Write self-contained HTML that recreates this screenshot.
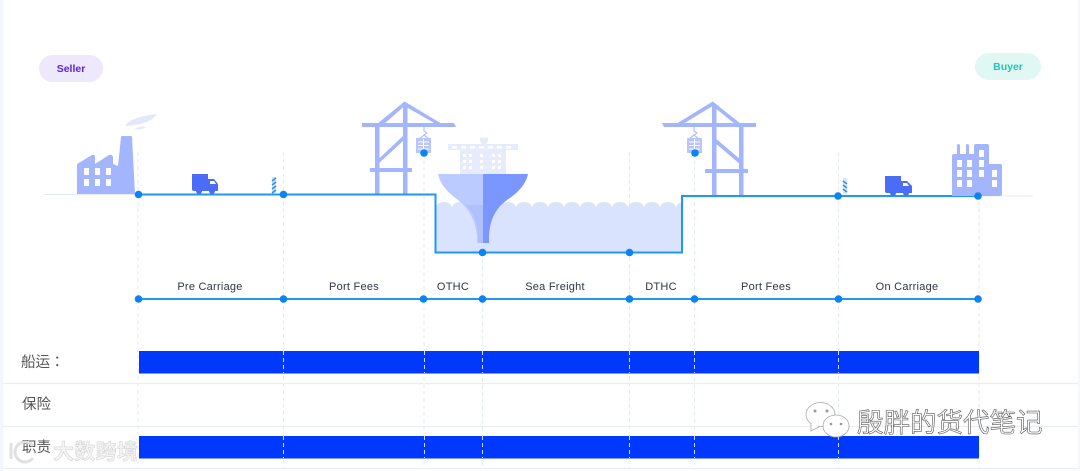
<!DOCTYPE html>
<html><head><meta charset="utf-8"><style>
html,body{margin:0;padding:0;background:#fff;width:1080px;height:471px;overflow:hidden}
svg{display:block}
.l{font:500 11px "Liberation Sans",sans-serif;fill:#2f3542;text-anchor:middle;letter-spacing:.25px}
.c{font:14.5px "Liberation Sans","Noto Sans CJK JP",sans-serif;fill:#555}
</style></head><body>
<svg width="1080" height="471" viewBox="0 0 1080 471" xmlns="http://www.w3.org/2000/svg">
<defs><clipPath id="w"><rect x="436" y="195" width="246" height="58"/></clipPath></defs>
<rect width="1080" height="471" fill="#fff"/>
<rect x="0" y="0" width="3" height="471" fill="#f4f6ff"/>
<rect x="1078" y="0" width="2" height="471" fill="#f7f8fd"/>
<g stroke="#e9eef3" stroke-width="1.2"><path d="M3 383.5H1078M3 426.5H1078M3 468.5H1078"/></g>

<!-- ground -->
<path d="M44 194.5H138M978 196H1033" stroke="#e6ebf7" stroke-width="1"/>

<!-- dashed verticals -->
<g stroke="#e4eaf6" stroke-width="1" stroke-dasharray="4 3" fill="none">
<path d="M138 152V468M283.500 152V468M424 153V468M482.500 245V468M629.500 152V468M694.500 153V468M838.500 152V468M979 152V468"/>
</g>

<!-- pills -->
<rect x="39" y="55" width="64" height="27" rx="13.500" fill="#ede8fc"/>
<text x="71" y="72" text-anchor="middle" style="font:bold 10.500px 'Liberation Sans',sans-serif" fill="#5a25e0">Seller</text>
<rect x="975" y="53" width="66" height="27" rx="13.500" fill="#e0f7f3"/>
<text x="1008" y="70" text-anchor="middle" style="font:bold 10.500px 'Liberation Sans',sans-serif" fill="#25c3b5">Buyer</text>

<!-- factory -->
<path d="M125 126C129 119 141 116 157 114C152 122 140 125 125 126Z" fill="#e3e9fb"/>
<path d="M134 129Q140 126 146 127Q141 130 134 129Z" fill="#e3e9fb"/>
<path d="M77 194V164L92 155Q95 154 95 157V164L109 155Q112 154 113 157V164L118 166L121 137Q121 136 123 136H131Q132 136 132 137L135 194Z" fill="#a3b5fc"/>
<g fill="#fff"><rect x="84" y="168" width="5" height="7"/><rect x="95" y="168" width="5" height="7"/><rect x="106" y="168" width="5" height="7"/><rect x="84" y="179" width="5" height="7"/><rect x="95" y="179" width="5" height="7"/><rect x="106" y="179" width="5" height="7"/></g>

<!-- truck left -->
<g id="t1"><path d="M192 174H208V191H194Q192 191 192 189Z" fill="#4a6cf7"/><path d="M208 179H214L218 184V191H208Z" fill="#4a6cf7"/><path d="M210 181H214L216 184H210Z" fill="#fff"/><circle cx="199" cy="191" r="3" fill="#4a6cf7"/><circle cx="212" cy="191" r="3" fill="#4a6cf7"/></g>
<!-- post left -->
<rect x="272" y="177" width="4" height="16" fill="#cfe3fa"/>
<path d="M272 181L276 178M272 185L276 182M272 189L276 186M272 193L276 190" stroke="#2c8fe8" stroke-width="1.500"/>

<!-- cranes -->
<g fill="#a3b5fc" stroke="none">
<path d="M362 123H454L456 127H362Z"/>
<rect x="375" y="124" width="4.500" height="71"/>
<rect x="403" y="104" width="4.500" height="91"/>
<rect x="370" y="168" width="42" height="4"/>
<path d="M377 124L404.500 101.500L442 124H436L404.500 106L384 124Z"/>
<path d="M377.500 160L403 136V141L378 164Z"/>
<path d="M662 123H756V127H664Z"/>
<rect x="712" y="104" width="4.500" height="91"/>
<rect x="739" y="124" width="4.500" height="71"/>
<rect x="705" y="169" width="43" height="4"/>
<path d="M676 124L712.700 101.500L741 124H735L712.700 106L683 124Z"/>
<path d="M714 137L741 160V165L714 142Z"/>
</g>
<g fill="none" stroke="#a3b5fc" stroke-width="1"><path d="M424 127V131L427 133L424 135L419 139M424 135L429 139"/><path d="M694 127V131L697 133L694 135L689 139M694 135L699 139"/></g>
<g fill="#b8c6fb"><rect x="416" y="138" width="15" height="15"/><rect x="687" y="138" width="15" height="15"/></g>
<g stroke="#fff" stroke-width="1"><path d="M418 142H429M418 145.500H429M418 149H429M423.500 139V153M689 142H700M689 145.500H700M689 149H700M694.500 139V153"/></g>

<!-- ship superstructure -->
<g fill="#e6ecfb">
<path d="M480 137.500H488V141L486 144H482L480 141Z"/>
<rect x="448" y="144" width="70" height="6"/>
<rect x="460" y="150" width="46" height="25"/>
</g>
<g fill="#fff">
<rect x="452" y="146" width="5" height="2.500"/><rect x="461" y="146" width="5" height="2.500"/><rect x="470" y="146" width="5" height="2.500"/><rect x="479" y="146" width="5" height="2.500"/><rect x="488" y="146" width="5" height="2.500"/><rect x="497" y="146" width="5" height="2.500"/><rect x="506" y="146" width="5" height="2.500"/>
<rect x="463" y="154" width="3" height="3"/><rect x="469" y="154" width="3" height="3"/><rect x="480" y="154" width="3" height="3"/><rect x="492" y="154" width="3" height="3"/><rect x="498" y="154" width="3" height="3"/>
<rect x="463" y="160" width="3" height="3"/><rect x="469" y="160" width="3" height="3"/><rect x="480" y="160" width="3" height="3"/><rect x="492" y="160" width="3" height="3"/><rect x="498" y="160" width="3" height="3"/>
<rect x="463" y="166" width="3" height="3"/><rect x="469" y="166" width="3" height="3"/><rect x="480" y="166" width="3" height="3"/><rect x="492" y="166" width="3" height="3"/><rect x="498" y="166" width="3" height="3"/>
</g>

<!-- water -->
<g fill="#d9e3fd" clip-path="url(#w)">
<rect x="436" y="208" width="246" height="45"/>
<ellipse cx="444" cy="208" rx="8" ry="6"/><ellipse cx="460" cy="208" rx="8" ry="6"/><ellipse cx="476" cy="208" rx="8" ry="6"/><ellipse cx="492" cy="208" rx="8" ry="6"/><ellipse cx="508" cy="208" rx="8" ry="6"/><ellipse cx="524" cy="208" rx="8" ry="6"/><ellipse cx="540" cy="208" rx="8" ry="6"/><ellipse cx="556" cy="208" rx="8" ry="6"/><ellipse cx="572" cy="208" rx="8" ry="6"/><ellipse cx="588" cy="208" rx="8" ry="6"/><ellipse cx="604" cy="208" rx="8" ry="6"/><ellipse cx="620" cy="208" rx="8" ry="6"/><ellipse cx="636" cy="208" rx="8" ry="6"/><ellipse cx="652" cy="208" rx="8" ry="6"/><ellipse cx="668" cy="208" rx="8" ry="6"/><ellipse cx="684" cy="208" rx="8" ry="6"/>
</g>

<!-- funnel hull -->
<path d="M438 174H483V243H477V236C475 220 470 210 458 200C447 192 440 184 438 174Z" fill="#bccbff"/>
<path d="M483 174H528C526 184 518 193 507 200C495 209 490 220 489 236V243H483Z" fill="#7a97ff"/>
<path d="M465 205Q477 215 478 236V243H483V205Z" fill="#a9bcfb" opacity=".7"/>

<!-- route -->
<path d="M138 194.500H435.500V252.500H682V196H978" fill="none" stroke="#1e98f0" stroke-width="2"/>

<!-- truck right -->
<g><path d="M885 176H901V193H887Q885 193 885 191Z" fill="#4a6cf7"/><path d="M901 181H907L912 186V193H901Z" fill="#4a6cf7"/><path d="M903 183H907L909 186H903Z" fill="#fff"/><circle cx="893" cy="193" r="3" fill="#4a6cf7"/><circle cx="906" cy="193" r="3" fill="#4a6cf7"/></g>
<!-- post right -->
<rect x="843" y="178" width="4" height="16" fill="#d8e8fb"/>
<path d="M843 181L847 184M843 185L847 188M843 189L847 192" stroke="#2c8fe8" stroke-width="1.500"/>

<!-- building -->
<path d="M952 196V156Q952 154 954 154H957V146Q957 144 958.500 144Q960 144 960 146V154H966V146Q966 144 967.500 144Q969 144 969 146V154H974V146Q974 144 976 144H987Q989 144 989 146V164H1000Q1002 164 1002 166V194Q1002 196 1000 196Z" fill="#a3b5fc"/>
<g fill="#fff">
<rect x="957" y="160" width="5" height="7"/><rect x="967" y="160" width="5" height="7"/><rect x="979" y="150" width="5" height="7"/><rect x="979" y="160" width="5" height="7"/>
<rect x="957" y="170" width="5" height="7"/><rect x="967" y="170" width="5" height="7"/><rect x="979" y="170" width="5" height="7"/><rect x="992" y="170" width="5" height="7"/>
<rect x="957" y="180" width="5" height="7"/><rect x="967" y="180" width="5" height="7"/><rect x="992" y="180" width="5" height="7"/>
</g>

<!-- route dots -->
<g fill="#0a84f5">
<circle cx="138.500" cy="194.500" r="3.800"/><circle cx="283.500" cy="194.500" r="3.800"/><circle cx="424" cy="153" r="3.800"/><circle cx="482.500" cy="252.500" r="3.800"/><circle cx="629.500" cy="252.500" r="3.800"/><circle cx="695" cy="153" r="3.800"/><circle cx="838" cy="196" r="3.800"/><circle cx="978" cy="196" r="3.800"/>
</g>

<!-- timeline -->
<text class="l" x="210" y="290">Pre Carriage</text>
<text class="l" x="354" y="290">Port Fees</text>
<text class="l" x="453" y="290">OTHC</text>
<text class="l" x="555" y="290">Sea Freight</text>
<text class="l" x="661" y="290">DTHC</text>
<text class="l" x="766" y="290">Port Fees</text>
<text class="l" x="907" y="290">On Carriage</text>
<path d="M138 299H978" stroke="#1e98f0" stroke-width="2"/>
<g fill="#0a84f5">
<circle cx="138.500" cy="299" r="3.800"/><circle cx="283.500" cy="299" r="3.800"/><circle cx="423.500" cy="299" r="3.800"/><circle cx="482.500" cy="299" r="3.800"/><circle cx="629.500" cy="299" r="3.800"/><circle cx="694.500" cy="299" r="3.800"/><circle cx="838.500" cy="299" r="3.800"/><circle cx="978" cy="299" r="3.800"/>
</g>

<!-- bars -->
<rect x="139" y="351" width="840" height="22.500" fill="#0039fb"/>
<rect x="139" y="436" width="840" height="22.500" fill="#0039fb"/>
<g stroke="#cfe0ff" stroke-width="1" stroke-dasharray="4 3"><path d="M283.500 351V373M424.500 351V373M482.500 351V373M629.500 351V373M694.500 351V373M838.500 351V373M283.500 436V458M424.500 436V458M482.500 436V458M629.500 436V458M694.500 436V458M838.500 436V458"/></g>

<!-- row labels -->
<text class="c" x="21" y="367">船运：</text>
<text class="c" x="22" y="409">保险</text>
<text class="c" x="22" y="452">职责</text>

<!-- watermark left -->
<g fill="none" stroke-width="3"><path d="M11 443V459" stroke="#e0e0e0"/><path d="M33 446A10 10 0 1 0 33 458" stroke="#e0e0e0"/></g>
<text x="53" y="459" style="font:bold 21px 'Noto Sans CJK SC',sans-serif" fill="#f4f4f4" stroke="#cfcfcf" stroke-width=".5" letter-spacing=".3">大数跨境</text>

<!-- watermark right -->
<g fill="#fff" stroke="#aaa" stroke-width=".8">
<ellipse cx="820.500" cy="414.500" rx="14.500" ry="12"/><path d="M811 423L811 431L819 427"/>
<ellipse cx="836" cy="426" rx="13" ry="11"/>
</g>
<g fill="#999"><circle cx="815" cy="411" r="1.500"/><circle cx="827" cy="411" r="1.500"/><circle cx="831" cy="424" r="1.300"/><circle cx="841" cy="424" r="1.300"/></g>
<text x="857" y="432" style="font:26.500px 'Noto Sans CJK SC',sans-serif" fill="#fff" stroke="#555" stroke-width=".6">殷胖的货代笔记</text>
</svg>
</body></html>
